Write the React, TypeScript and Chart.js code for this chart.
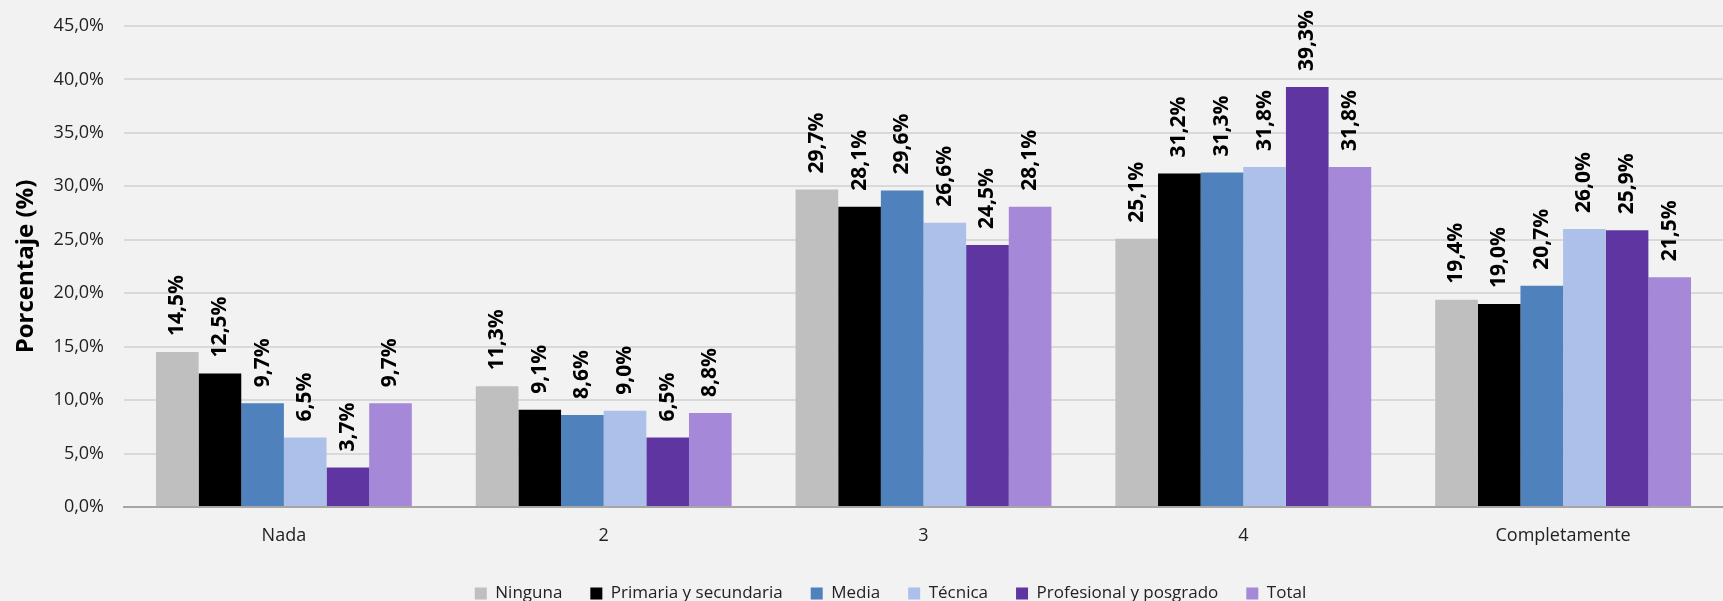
import React, { useEffect, useRef } from "react";
import { Chart, registerables } from "chart.js";

Chart.register(...registerables);

const categories = ["Nada", "2", "3", "4", "Completamente"];
const seriesNames = ["Ninguna", "Primaria y secundaria", "Media", "Técnica", "Profesional y posgrado", "Total"];
const ninguna = [14.5, 11.3, 29.7, 25.1, 19.4];
const primaria = [12.5, 9.1, 28.1, 31.2, 19.0];
const media = [9.7, 8.6, 29.6, 31.3, 20.7];
const tecnica = [6.5, 9.0, 26.6, 31.8, 26.0];
const profesional = [3.7, 6.5, 24.5, 39.3, 25.9];
const total = [9.7, 8.8, 28.1, 31.8, 21.5];
const seriesColors = ["#bfbfbf", "#000000", "#4f81bd", "#adc0e9", "#5f35a1", "#a688d9"];
const yTicks = [0, 5, 10, 15, 20, 25, 30, 35, 40, 45];

const FONT = "'Open Sans', 'Noto Sans', sans-serif";
const fmt = (v: number) => v.toFixed(1).replace(".", ",") + "%";

const labelPlugin = {
  id: "barLabels",
  afterDatasetsDraw(chart: any) {
    const ctx = chart.ctx;
    ctx.save();
    ctx.font = `bold 21px ${FONT}`;
    ctx.fillStyle = "#000000";
    ctx.textAlign = "left";
    ctx.textBaseline = "middle";
    chart.data.datasets.forEach((ds: any, i: number) => {
      const meta = chart.getDatasetMeta(i);
      meta.data.forEach((el: any, j: number) => {
        const v = ds.data[j];
        ctx.save();
        ctx.translate(el.x, el.y - 16);
        ctx.rotate(-Math.PI / 2);
        ctx.fillText(fmt(v), 0, 0);
        ctx.restore();
      });
    });
    ctx.restore();
  },
};

const bgPlugin = {
  id: "bg",
  beforeDraw(chart: any) {
    const ctx = chart.ctx;
    ctx.save();
    ctx.fillStyle = "#f2f2f2";
    ctx.fillRect(0, 0, chart.width, chart.height);
    ctx.restore();
  },
};

const legendShiftPlugin = {
  id: "legendShift",
  afterLayout(chart: any) {
    if (chart.legend) {
      chart.legend.left += 26;
      chart.legend.right += 26;
    }
  },
};

export default function App() {
  const ref = useRef<HTMLCanvasElement>(null);
  useEffect(() => {
    if (!ref.current) return;
    const allSeries = [ninguna, primaria, media, tecnica, profesional, total];
    const chart = new Chart(ref.current, {
      type: "bar",
      data: {
        labels: categories,
        datasets: allSeries.map((d, i) => ({
          label: seriesNames[i],
          data: d,
          backgroundColor: seriesColors[i],
          borderWidth: 0,
        })),
      },
      options: {
        responsive: false,
        animation: false,
        layout: { padding: { top: 26, left: 6, right: 0, bottom: 0 } },
        datasets: { bar: { barPercentage: 1, categoryPercentage: 0.8 } },
        scales: {
          x: {
            grid: { display: false, drawTicks: false },
            border: { display: true, color: "#a6a6a6", width: 2 },
            ticks: { color: "#222", font: { family: FONT, size: 18 }, padding: 18 },
            afterFit: (scale: any) => {
              scale.height = 50;
              scale.paddingLeft = 0;
              scale.paddingRight = 0;
            },
          },
          y: {
            min: 0,
            max: 45,
            afterBuildTicks: (scale: any) => {
              scale.ticks = yTicks.map((v) => ({ value: v }));
            },
            afterFit: (scale: any) => {
              scale.width = 118;
              scale.paddingTop = 0;
              scale.paddingBottom = 0;
            },
            grid: { color: "#d9d9d9", lineWidth: 2, drawTicks: false },
            border: { display: false },
            ticks: {
              color: "#222",
              font: { family: FONT, size: 18 },
              padding: 20,
              callback: (v: any) => Number(v).toFixed(1).replace(".", ",") + "%",
            },
            title: {
              display: true,
              text: "Porcentaje (%)",
              color: "#000",
              font: { family: FONT, size: 24, weight: "bold" },
              padding: { top: 6, bottom: 0 },
            },
          },
        },
        plugins: {
          legend: {
            position: "bottom",
            labels: {
              boxWidth: 12,
              boxHeight: 12,
              padding: 28,
              color: "#222",
              font: { family: FONT, size: 17 },
            },
          },
          tooltip: { enabled: false },
        },
      },
      plugins: [bgPlugin, labelPlugin, legendShiftPlugin],
    });
    return () => chart.destroy();
  }, []);
  return (
    <div style={{ position: "fixed", left: 0, top: 0, width: 1723, height: 601, overflow: "hidden", background: "#f2f2f2" }}>
      <canvas ref={ref} width={1723} height={612} style={{ display: "block" }} />
    </div>
  );
}
